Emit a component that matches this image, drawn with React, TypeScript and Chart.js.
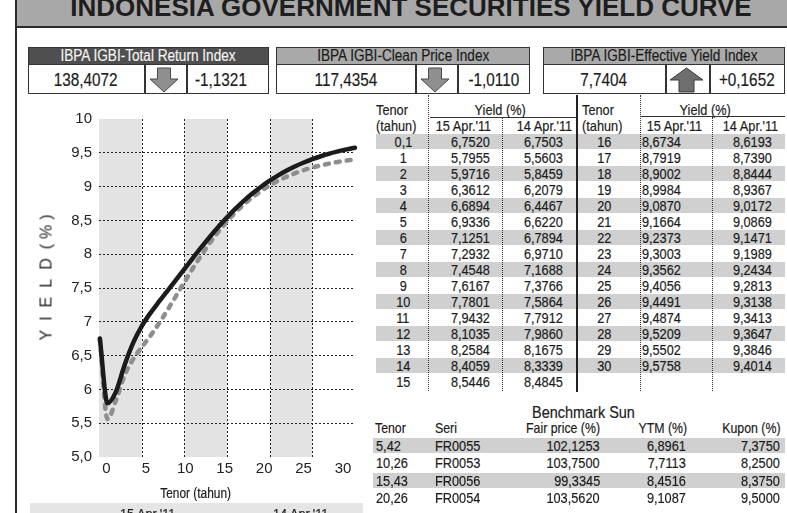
import React, { useEffect, useRef } from "react";
import { Chart, registerables } from "chart.js";

Chart.register(...registerables);

// ---------- DATA ----------
const tenors = [0.1, 1, 2, 3, 4, 5, 6, 7, 8, 9, 10, 11, 12, 13, 14, 15, 16, 17, 18, 19, 20, 21, 22, 23, 24, 25, 26, 27, 28, 29, 30];
const yield15Apr = [6.752, 5.7955, 5.9716, 6.3612, 6.6894, 6.9336, 7.1251, 7.2932, 7.4548, 7.6167, 7.7801, 7.9432, 8.1035, 8.2584, 8.4059, 8.5446, 8.6734, 8.7919, 8.9002, 8.9984, 9.087, 9.1664, 9.2373, 9.3003, 9.3562, 9.4056, 9.4491, 9.4874, 9.5209, 9.5502, 9.5758];
const yield14Apr = [6.7503, 5.5603, 5.8459, 6.2079, 6.4467, 6.622, 6.7894, 6.971, 7.1688, 7.3766, 7.5864, 7.7912, 7.986, 8.1675, 8.3339, 8.4845, 8.6193, 8.739, 8.8444, 8.9367, 9.0172, 9.0869, 9.1471, 9.1989, 9.2434, 9.2813, 9.3138, 9.3413, 9.3647, 9.3846, 9.4014];
const seriesLabels = ["15 Apr.'11", "14 Apr.'11"];
const yTickLabels = ["5,0", "5,5", "6", "6,5", "7", "7,5", "8", "8,5", "9", "9,5", "10"];
const xTickValues = [0, 5, 10, 15, 20, 25, 30];
const shadedBands = [[0, 5], [10, 15], [20, 25]];
const verticalGrid = [5, 10, 15, 20, 25];

const indexNames = ["IBPA IGBI-Total Return Index", "IBPA IGBI-Clean Price Index", "IBPA IGBI-Effective Yield Index"];
const indexValues = ["138,4072", "117,4354", "7,7404"];
const indexChanges = ["-1,1321", "-1,0110", "+0,1652"];
const indexDirections = ["down", "down", "up"];

const benchTenor = ["5,42", "10,26", "15,43", "20,26"];
const benchSeri = ["FR0055", "FR0053", "FR0056", "FR0054"];
const benchFair = ["102,1253", "103,7500", "99,3345", "103,5620"];
const benchYtm = ["6,8961", "7,7113", "8,4516", "9,1087"];
const benchKupon = ["7,3750", "8,2500", "8,3750", "9,5000"];

// ---------- STYLE ----------
const SANS = '"Liberation Sans", Arial, sans-serif';
const INK = "#1c1c1c";
const NARROW_SCALE = 0.85;

const fmt = (v: number) => v.toFixed(4).replace(".", ",");
const fmtTenor = (t: number) => String(t).replace(".", ",");

type TxtProps = {
  x: number; cy: number; text: string; align?: "left" | "right" | "center";
  size?: number; color?: string; weight?: number; family?: string; w?: number; sx?: number;
};
function Txt({ x, cy, text, align = "left", size = 15, color = INK, weight = 400, family = SANS, w = 200, sx = NARROW_SCALE }: TxtProps) {
  const left = align === "left" ? x : align === "right" ? x - w : x - w / 2;
  const h = size * 2;
  return (
    <div style={{ position: "absolute", left, top: cy - h / 2, width: w, height: h, lineHeight: h + "px", fontSize: size, textAlign: align, color, fontWeight: weight, fontFamily: family, whiteSpace: "nowrap", WebkitTextStroke: weight >= 700 ? undefined : "0.2px " + color }}>
      <span style={{ display: "inline-block", transform: `scaleX(${sx})`, transformOrigin: align === "left" ? "left center" : align === "right" ? "right center" : "center center" }}>{text}</span>
    </div>
  );
}

function Rect({ x, y, w, h, bg }: { x: number; y: number; w: number; h: number; bg: string }) {
  return <div style={{ position: "absolute", left: x, top: y, width: w, height: h, background: bg }} />;
}

function VDots({ x, y1, y2 }: { x: number; y1: number; y2: number }) {
  return <div style={{ position: "absolute", left: x, top: y1, width: 0, height: y2 - y1, borderLeft: "1.5px dotted #333" }} />;
}

function Arrow({ dir, x, y }: { dir: string; x: number; y: number }) {
  if (dir === "down") {
    return (
      <svg style={{ position: "absolute", left: x, top: y }} width={30} height={26} viewBox="0 0 30 26">
        <polygon points="8.5,1 21.5,1 21.5,12 29,12 15,25 1,12 8.5,12" fill="#8f8f8f" stroke="#4a4a4a" strokeWidth={1} />
      </svg>
    );
  }
  return (
    <svg style={{ position: "absolute", left: x, top: y }} width={35} height={26} viewBox="0 0 35 26">
      <polygon points="17.5,1 34,13 25,13 25,25 10,25 10,13 1,13" fill="#6e6e6e" stroke="#3a3a3a" strokeWidth={1} />
    </svg>
  );
}

const boxLayout = [
  { x: 28, w: 241, c1: 116, c2: 42, arrowDx: 5, changeAlign: "left" as const },
  { x: 276, w: 254, c1: 139, c2: 42, arrowDx: 5, changeAlign: "center" as const },
  { x: 543, w: 242, c1: 122, c2: 44, arrowDx: 5, changeAlign: "center" as const },
];

function IndexBox({ i }: { i: number }) {
  const L = boxLayout[i];
  const top = 47, hh = 18, bottom = 94;
  const dark = i === 0;
  const cellY = (top + hh + bottom) / 2;
  const changeLeft = L.x + L.c1 + L.c2;
  const changeW = L.x + L.w - changeLeft;
  return (
    <>
      <div style={{ position: "absolute", left: L.x, top, width: L.w, height: bottom - top, border: "1.5px solid #333", boxSizing: "border-box", background: "#fff" }} />
      <div style={{ position: "absolute", left: L.x, top, width: L.w, height: hh, background: dark ? "#4f4f4f" : "#a9a9a9", border: "1.5px solid #333", boxSizing: "border-box" }} />
      <Txt x={L.x + L.w / 2} cy={top + hh / 2} w={L.w} align="center" text={indexNames[i]} size={16} color={dark ? "#f2f2f2" : "#1c1c1c"} />
      <Rect x={L.x + L.c1} y={top + hh} w={1.5} h={bottom - top - hh} bg="#333" />
      <Rect x={L.x + L.c1 + L.c2} y={top + hh} w={1.5} h={bottom - top - hh} bg="#333" />
      <Txt x={L.x + L.c1 / 2} cy={cellY} w={L.c1} align="center" text={indexValues[i]} size={18} color="#1c1c1c" />
      <Arrow dir={indexDirections[i]} x={L.x + L.c1 + L.arrowDx - (indexDirections[i] === "up" ? 1 : 0)} y={top + hh + 2} />
      {L.changeAlign === "left" ? (
        <Txt x={changeLeft + 9} cy={cellY} w={changeW} align="left" text={indexChanges[i]} size={18} color="#1c1c1c" />
      ) : (
        <Txt x={changeLeft + changeW / 2} cy={cellY} w={changeW} align="center" text={indexChanges[i]} size={18} color="#1c1c1c" />
      )}
    </>
  );
}

const bandPlugin = {
  id: "bandsAndVerticals",
  beforeDraw(chart: any) {
    const { ctx, chartArea, scales } = chart;
    const x = scales.x;
    ctx.save();
    ctx.fillStyle = "#e3e3e3";
    for (const [a, b] of shadedBands) {
      const x1 = x.getPixelForValue(a);
      const x2 = x.getPixelForValue(b);
      ctx.fillRect(x1, chartArea.top, x2 - x1, chartArea.bottom - chartArea.top);
    }
    ctx.restore();
  },
  beforeDatasetsDraw(chart: any) {
    const { ctx, chartArea, scales } = chart;
    const x = scales.x;
    ctx.save();
    ctx.strokeStyle = "#222";
    ctx.lineWidth = 1;
    ctx.setLineDash([2, 2]);
    for (const v of verticalGrid) {
      const px = Math.round(x.getPixelForValue(v)) + 0.5;
      ctx.beginPath();
      ctx.moveTo(px, chartArea.top);
      ctx.lineTo(px, chartArea.bottom);
      ctx.stroke();
    }
    ctx.restore();
  },
};

function YieldChart() {
  const ref = useRef<HTMLCanvasElement | null>(null);
  useEffect(() => {
    if (!ref.current) return;
    const tickFont = { family: SANS, size: 15 };
    const chart = new Chart(ref.current, {
      type: "line",
      data: {
        datasets: [
          {
            label: seriesLabels[0],
            data: tenors.map((t, i) => ({ x: t, y: yield15Apr[i] })),
            borderColor: "#1b1b1b",
            borderWidth: 4.5,
            pointRadius: 0,
            cubicInterpolationMode: "monotone",
            borderCapStyle: "round",
            borderJoinStyle: "round",
            clip: false,
            xAxisID: "x",
            yAxisID: "y",
          },
          {
            label: seriesLabels[1],
            data: tenors.map((t, i) => ({ x: t, y: yield14Apr[i] })),
            borderColor: "#8e8e8e",
            borderWidth: 4.5,
            borderDash: [4, 7],
            pointRadius: 0,
            cubicInterpolationMode: "monotone",
            borderCapStyle: "round",
            borderJoinStyle: "round",
            clip: false,
            xAxisID: "x",
            yAxisID: "y",
          },
        ],
      } as any,
      options: {
        animation: false,
        responsive: false,
        layout: { padding: { top: 19, right: 15, left: 0, bottom: 0 } },
        plugins: { legend: { display: false }, tooltip: { enabled: false } },
        scales: {
          x: { type: "linear", min: 0, max: 30, display: false },
          xl: {
            type: "linear",
            position: "bottom",
            min: -0.94,
            max: 31.52,
            grid: { display: false, drawTicks: false },
            border: { display: false },
            ticks: { font: tickFont, color: "#222", padding: 3, maxRotation: 0, autoSkip: false },
            afterBuildTicks: (s: any) => {
              s.ticks = xTickValues.map((v) => ({ value: v }));
            },
            afterFit: (s: any) => {
              s.height = 45;
            },
          },
          y: {
            type: "linear",
            min: 5,
            max: 10,
            ticks: {
              stepSize: 0.5,
              font: tickFont,
              color: "#222",
              padding: 7,
              callback: (v: any) => yTickLabels[Math.round((Number(v) - 5) / 0.5)],
            },
            grid: {
              drawTicks: false,
              lineWidth: 1,
              color: (c: any) => (c.tick && (c.tick.value === 5 || c.tick.value === 10) ? "rgba(0,0,0,0)" : "#222"),
            },
            border: { display: false, dash: [2, 2] },
            afterFit: (s: any) => {
              s.width = 83;
            },
          },
        } as any,
      },
      plugins: [bandPlugin],
    });
    return () => chart.destroy();
  }, []);
  return <canvas ref={ref} width={354} height={402} style={{ position: "absolute", left: 16, top: 100, width: 354, height: 402 }} />;
}

const ROW0 = 141.8;
const PITCH = 16;

function YieldTable() {
  const left = tenors.slice(0, 16).map((t, i) => ({ t, a: yield15Apr[i], b: yield14Apr[i] }));
  const right = tenors.slice(16).map((t, i) => ({ t, a: yield15Apr[i + 16], b: yield14Apr[i + 16] }));
  return (
    <>
      {left.map((_, i) => (i % 2 === 0 ? <Rect key={"ls" + i} x={376} y={ROW0 + PITCH * i - 7.5} w={200} h={15} bg="#d0d0d0" /> : null))}
      {right.map((_, i) => (i % 2 === 0 ? <Rect key={"rs" + i} x={577} y={ROW0 + PITCH * i - 7.5} w={208} h={15} bg="#d0d0d0" /> : null))}
      <VDots x={428} y1={95} y2={391} />
      <VDots x={502} y1={117} y2={391} />
      <VDots x={640} y1={95} y2={391} />
      <VDots x={712} y1={117} y2={391} />
      <Rect x={576} y={95} w={1.5} h={297} bg="#222" />
      <Rect x={430} y={116.5} w={146} h={1} bg="#333" />
      <Rect x={641} y={116} w={144} h={1} bg="#333" />
      <Txt x={376} cy={110} text="Tenor" size={15} />
      <Txt x={376} cy={126} text="(tahun)" size={15} />
      <Txt x={500} cy={110} w={100} align="center" text="Yield (%)" size={15} />
      <Txt x={491} cy={126} w={80} align="right" text={seriesLabels[0]} size={15} />
      <Txt x={572} cy={126} w={80} align="right" text={seriesLabels[1]} size={15} />
      <Txt x={582} cy={110} text="Tenor" size={15} />
      <Txt x={582} cy={126} text="(tahun)" size={15} />
      <Txt x={705} cy={110} w={100} align="center" text="Yield (%)" size={15} />
      <Txt x={702} cy={126} w={80} align="right" text={seriesLabels[0]} size={15} />
      <Txt x={778} cy={126} w={80} align="right" text={seriesLabels[1]} size={15} />
      {left.map((r, i) => (
        <React.Fragment key={"l" + i}>
          <Txt x={403} cy={ROW0 + PITCH * i} w={50} align="center" text={fmtTenor(r.t)} size={15} />
          <Txt x={490} cy={ROW0 + PITCH * i} w={60} align="right" text={fmt(r.a)} size={15} />
          <Txt x={563} cy={ROW0 + PITCH * i} w={60} align="right" text={fmt(r.b)} size={15} />
        </React.Fragment>
      ))}
      {right.map((r, i) => (
        <React.Fragment key={"r" + i}>
          <Txt x={604} cy={ROW0 + PITCH * i} w={50} align="center" text={fmtTenor(r.t)} size={15} />
          <Txt x={681} cy={ROW0 + PITCH * i} w={60} align="right" text={fmt(r.a)} size={15} />
          <Txt x={772} cy={ROW0 + PITCH * i} w={60} align="right" text={fmt(r.b)} size={15} />
        </React.Fragment>
      ))}
    </>
  );
}

function BenchmarkTable() {
  const rowY = [445.8, 463.3, 480.8, 498.3];
  return (
    <>
      <Txt x={583} cy={413} w={200} align="center" text="Benchmark Sun" size={17} />
      <Txt x={375} cy={428} text="Tenor" size={14.5} />
      <Txt x={435} cy={428} text="Seri" size={14.5} />
      <Txt x={600} cy={428} w={120} align="right" text="Fair price (%)" size={14.5} />
      <Txt x={687} cy={428} w={100} align="right" text="YTM (%)" size={14.5} />
      <Txt x={781} cy={428} w={100} align="right" text="Kupon (%)" size={14.5} />
      {benchTenor.map((t, i) => (
        <React.Fragment key={"b" + i}>
          {i % 2 === 0 ? <Rect x={373} y={rowY[i] - 7.5} w={412} h={15} bg="#d0d0d0" /> : null}
          <Txt x={376} cy={rowY[i]} text={t} size={15} />
          <Txt x={435} cy={rowY[i]} text={benchSeri[i]} size={15} />
          <Txt x={600} cy={rowY[i]} w={100} align="right" text={benchFair[i]} size={15} />
          <Txt x={686} cy={rowY[i]} w={100} align="right" text={benchYtm[i]} size={15} />
          <Txt x={780} cy={rowY[i]} w={100} align="right" text={benchKupon[i]} size={15} />
        </React.Fragment>
      ))}
    </>
  );
}

export default function App() {
  return (
    <div style={{ position: "fixed", left: 0, top: 0, width: 787, height: 513, overflow: "hidden", background: "#fff" }}>
      {/* title bar */}
      <Rect x={16} y={0} w={771} h={26} bg="#a8a8a8" />
      <Txt x={411} cy={6.5} w={822} align="center" text="INDONESIA GOVERNMENT SECURITIES YIELD CURVE" size={26} weight={700} color="#1e1e1e" sx={1} />
      <Rect x={15} y={26} w={772} h={2} bg="#2b2b2b" />
      <Rect x={15} y={0} w={2} h={513} bg="#2b2b2b" />

      {indexNames.map((_, i) => (
        <IndexBox key={i} i={i} />
      ))}

      <YieldChart />

      {/* axis titles */}
      <div style={{ position: "absolute", left: 46 - 62.5, top: 277.5 - 10, width: 125, height: 20, transform: "rotate(-90deg)", display: "flex", justifyContent: "space-between", alignItems: "center", fontFamily: SANS, fontSize: 16, color: "#222", lineHeight: "20px", whiteSpace: "nowrap" }}>
        <span style={{ letterSpacing: 9 }}>YIELD</span>
        <span style={{ letterSpacing: 5, marginRight: -5 }}>(%)</span>
      </div>
      <Txt x={196} cy={493} w={120} align="center" text="Tenor (tahun)" size={14} />

      {/* legend bar (cut off at bottom) */}
      <Rect x={30} y={503} w={333} h={12} bg="#e5e5e5" />
      <Txt x={120} cy={514.4} text={seriesLabels[0]} size={15} />
      <Txt x={273} cy={514.4} text={seriesLabels[1]} size={15} />

      <YieldTable />
      <BenchmarkTable />
    </div>
  );
}
